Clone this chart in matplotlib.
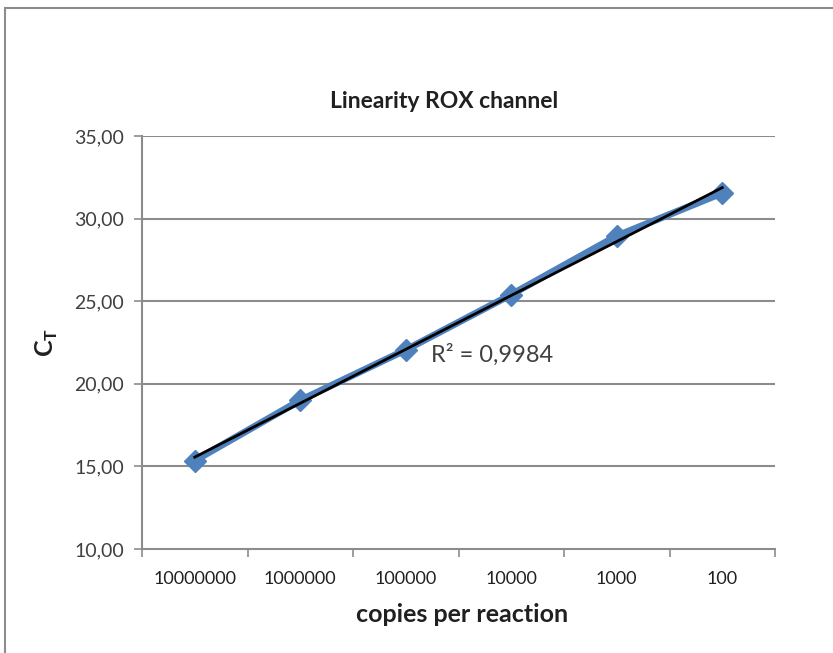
import matplotlib
matplotlib.use("Agg")
import matplotlib.pyplot as plt
import numpy as np
from matplotlib.patches import Rectangle

plt.rcParams['font.family'] = ['Lato', 'DejaVu Sans']

# data
copies = ["10000000", "1000000", "100000", "10000", "1000", "100"]
ct = [15.35, 19.0, 22.05, 25.4, 28.95, 31.55]
r2_text = "R² = 0,9984"

x = np.arange(1, len(copies) + 1)
slope, inter = np.polyfit(x, ct, 1)

fig = plt.figure(figsize=(8.33, 6.53), dpi=100)
fig.patches.append(Rectangle((5 / 833, -0.05), 1.1, 1 - 8 / 653 + 0.05,
                             transform=fig.transFigure, fill=False,
                             edgecolor="#8c8c8c", linewidth=1.5))

ax = fig.add_axes([142 / 833, 1 - 549 / 653, 633 / 833, 413 / 653])
grid_c = "#8c8c8c"

ax.set_ylim(10, 35)
ax.set_xlim(0.5, len(copies) + 0.5)
yt = np.arange(10, 36, 5)
ax.set_yticks(yt)
ax.set_yticklabels(["{:.2f}".format(v).replace(".", ",") for v in yt],
                   fontsize=14, color="#404040")
for v in yt[1:]:
    ax.axhline(v, color=grid_c, linewidth=1.5, zorder=1)

ax.set_xticks(x)
ax.set_xticklabels(copies, fontsize=13, color="#202020")
ax.set_xticks(np.arange(0.5, len(copies) + 1, 1), minor=True)
ax.tick_params(axis="x", which="major", length=0, pad=16)
ax.tick_params(axis="x", which="minor", length=6, width=1.2, color=grid_c, direction="out")
ax.tick_params(axis="y", length=6, width=1.2, color=grid_c, direction="out", pad=7)

for s in ["top", "right"]:
    ax.spines[s].set_visible(False)
for s in ["left", "bottom"]:
    ax.spines[s].set_color(grid_c)
    ax.spines[s].set_linewidth(1.5)

ax.plot(x, ct, color="#4f81bd", linewidth=5, marker="D", markersize=11,
        markeredgecolor="#4f81bd", zorder=3, solid_capstyle="round")
ax.plot(x, slope * x + inter, color="black", linewidth=2, zorder=4)

ax.text(3.24, 21.35, r2_text, fontsize=17, color="#404040", zorder=5)

fig.text(444 / 833, 1 - 101 / 653, "Linearity ROX channel", fontsize=16.5,
         fontweight="bold", ha="center", va="center", color="#202020")
fig.text(462 / 833, 1 - 614 / 653, "copies per reaction", fontsize=18,
         fontweight="bold", ha="center", va="center", color="#202020")
fig.text(47 / 833, 1 - 342 / 653, r"C$_\mathregular{T}$", fontsize=18,
         fontweight="bold", ha="center", va="center", rotation=90, color="#202020")

fig.savefig("out.png", dpi=100)
